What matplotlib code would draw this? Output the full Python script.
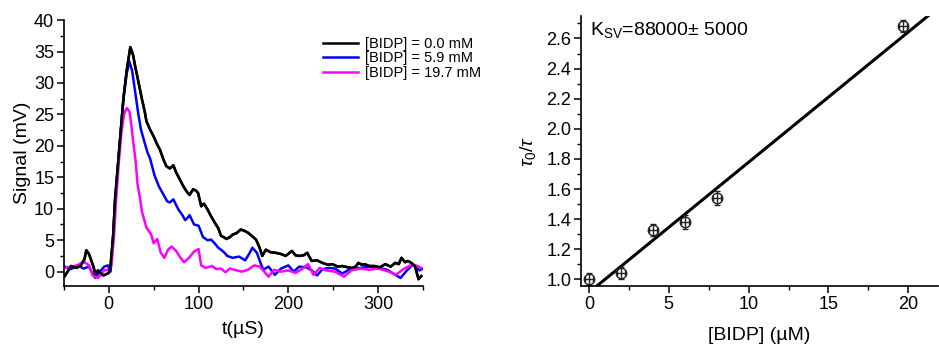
import numpy as np
import matplotlib.pyplot as plt
from matplotlib.ticker import MultipleLocator

plt.rcParams['font.family'] = ['Liberation Sans', 'DejaVu Sans']
plt.rcParams['mathtext.fontset'] = 'custom'
plt.rcParams['mathtext.rm'] = 'Liberation Sans'
plt.rcParams['mathtext.it'] = 'Liberation Sans:italic'

# transient traces (t in microseconds, signal in mV)
t_black = [-49, -45, -42, -36, -31, -27, -25, -22, -20, -17, -15, -12, -9, -6, -3, 0, 2, 5, 7, 12, 16.6, 20, 24, 27,
           29.5, 33, 37, 40, 42, 46, 50, 54, 57, 61, 64, 68, 72, 75, 79, 83, 86.5, 90, 94, 97, 99.5, 103, 106, 110,
           114, 118, 122, 125, 128, 131, 135, 138, 142, 147, 151, 155, 160, 164, 168, 171, 175, 180, 186, 192, 197,
           204, 208, 212, 217, 221, 226, 232, 238, 244, 249, 255, 260, 266, 271, 275, 278, 282, 285, 290, 296, 302,
           308, 314, 319, 323, 326, 330, 333, 337, 341, 345, 348]
s_black = [-0.7, 0.2, 0.9, 0.6, 1.0, 2.0, 3.4, 2.8, 2.0, 0.8, -0.4, 0.2, -0.2, -0.6, -0.4, -0.2, 0.9, 6.0, 11.5, 20.0, 27.9, 32.0, 35.7, 34.5,
           32.6, 30.2, 27.4, 25.5, 23.9, 22.6, 21.5, 20.2, 19.4, 17.8, 16.8, 16.4, 16.9, 15.8, 14.7, 13.6, 12.8, 12.2, 13.1, 12.9, 12.5, 10.4, 10.8, 9.9,
           8.8, 7.8, 6.9, 5.7, 5.5, 5.2, 5.5, 5.9, 6.1, 6.7, 6.5, 6.2, 5.6, 5.1, 3.8, 2.5, 3.5, 3.1, 3.0, 2.8, 2.5,
           3.3, 2.6, 2.5, 2.6, 3.0, 1.7, 1.8, 1.4, 1.1, 1.2, 0.8, 0.9, 0.7, 0.6, 0.8, 1.4, 1.1, 1.2, 0.9, 0.9, 0.7,
           1.2, 0.8, 1.4, 1.2, 2.2, 1.5, 1.7, 1.4, 0.9, -1.2, -0.7]

t_blue = [-49, -42, -35, -28, -22, -18, -15, -10, -5, -1, 2, 5, 7, 12, 16, 20, 23, 26, 28, 33, 36, 40, 43, 46, 51, 56,
          60, 65, 68, 72, 75, 78, 82, 85, 88, 90, 95, 100, 105, 110, 114, 118, 122, 125, 129, 132, 138, 145, 152,
          157, 160, 165, 168, 172, 178, 185, 192, 200, 206, 212, 220, 226, 232, 238, 245, 252, 260, 270, 280, 290,
          300, 310, 318, 325, 332, 338, 342, 346, 350]
s_blue = [0.8, 0.4, 1.0, 0.5, 0.8, -0.3, -1.0, 0.0, 0.8, 1.0, 0.0, 5.5, 11.0, 20.0, 27.0, 31.5, 33.4, 32.0, 30.0, 25.0, 22.5, 20.5, 19.0, 18.0, 15.3, 13.5,
          12.5, 11.2, 11.0, 11.5, 10.6, 9.8, 9.0, 8.2, 8.6, 9.0, 7.5, 7.3, 5.5, 5.0, 5.1, 4.5, 3.8, 3.5, 3.0, 2.5, 2.2, 2.4, 1.8,
          3.0, 3.8, 3.0, 1.8, 0.3, 0.8, -0.5, 0.5, 1.0, 0.0, 0.8, 0.7, 0.2, -0.6, 0.4, 0.6, 0.5, -0.3, 0.5, 0.6, 0.8,
          0.6, 0.3, -0.4, -1.0, 0.2, 1.0, 0.8, 0.2, 0.5]

t_mag = [-49, -42, -35, -28, -22, -18, -12, -5, 0, 3, 6, 8, 11, 14, 17, 20, 23, 25, 27, 30, 32, 35, 37, 42, 47, 50,
         54, 58, 62, 66, 70, 75, 80, 84, 90, 95, 100, 103, 108, 115, 120, 125, 130, 135, 140, 148, 155, 162, 168,
         172, 178, 184, 192, 200, 208, 216, 222, 228, 235, 242, 252, 262, 270, 280, 290, 300, 312, 320, 328, 336,
         342, 348]
s_mag = [0.6, 0.8, 1.0, 1.6, 1.0, -0.6, -1.0, 0.2, 0.3, 1.0, 6.0, 11.0, 17.0, 22.0, 25.0, 26.0, 25.5, 23.5, 21.0, 17.5, 14.0, 11.5, 9.5, 7.0, 6.0, 4.5,
         5.2, 3.0, 2.2, 3.5, 4.0, 3.3, 2.2, 1.5, 2.3, 3.2, 3.6, 1.0, 0.6, 0.9, 0.4, 0.5, -0.1, 0.5, 0.3, 0.0, 0.3, 1.0, 0.8,
         0.2, -0.8, 0.3, 0.0, 0.2, -0.2, 0.5, 1.2, -0.5, 0.6, 0.2, 0.0, -0.8, 0.2, 0.5, 0.3, 0.5, 0.0, -0.5, 0.4, 1.0,
         1.0, 0.6]

labels = ['[BIDP] = 0.0 mM', '[BIDP] = 5.9 mM', '[BIDP] = 19.7 mM']

# Stern-Volmer data
conc = [0, 2, 4, 6, 8, 19.7]
ratio = [1.00, 1.045, 1.33, 1.38, 1.54, 2.68]
ratio_err = [0.04, 0.04, 0.04, 0.045, 0.045, 0.04]
fit_slope = 0.0865
fit_icpt = 0.913

fig = plt.figure(figsize=(9.39, 3.46), dpi=100)
ax1 = fig.add_axes([0.068, 0.173, 0.3825, 0.769])
ax2 = fig.add_axes([0.6187, 0.173, 0.38, 0.781])

for t, s, c, lab in [(t_black, s_black, 'black', labels[0]),
                     (t_blue, s_blue, '#0000ff', labels[1]),
                     (t_mag, s_mag, '#ff00ff', labels[2])]:
    ax1.plot(t, s, color=c, lw=1.8, label=lab)
# redraw black on top as in the reference
ax1.plot(t_black, s_black, color='black', lw=1.8)

ax1.set_xlim(-50, 350)
ax1.set_ylim(-2.3, 40)
ax1.xaxis.set_major_locator(MultipleLocator(100))
ax1.xaxis.set_minor_locator(MultipleLocator(50))
ax1.yaxis.set_major_locator(MultipleLocator(5))
ax1.yaxis.set_minor_locator(MultipleLocator(2.5))
ax1.set_xlabel('t(\u00b5S)', fontsize=14, labelpad=6)
ax1.set_ylabel('Signal (mV)', fontsize=14, labelpad=2)
ax1.legend(loc='upper left', bbox_to_anchor=(0.336, 0.915), bbox_transform=fig.transFigure,
           frameon=False, fontsize=10.5, handlelength=2.4, handletextpad=0.5,
           labelspacing=0.05, borderpad=0)

xx = np.array([0.0, 23.0])
ax2.plot(xx, fit_icpt + fit_slope * xx, color='black', lw=2.2)
ax2.errorbar(conc, ratio, yerr=ratio_err, xerr=0.25, fmt='o', mfc='none', mec='#222222',
             ecolor='#222222', ms=7.5, mew=1.0, elinewidth=1.0, capsize=2.5)
ax2.set_xlim(-0.5, 21.85)
ax2.set_ylim(0.955, 2.75)
ax2.xaxis.set_major_locator(MultipleLocator(5))
ax2.xaxis.set_minor_locator(MultipleLocator(2.5))
ax2.yaxis.set_major_locator(MultipleLocator(0.2))
ax2.yaxis.set_minor_locator(MultipleLocator(0.1))
ax2.yaxis.set_major_formatter(plt.FormatStrFormatter('%.1f'))
ax2.set_xlabel('[BIDP] (\u00b5M)', fontsize=14, labelpad=10)
ax2.set_ylabel(r'$\tau_0/\tau$', fontsize=14, labelpad=6)
ax2.text(0.025, 0.985, 'K$_{\\rm SV}$=88000\u00b1 5000',
         transform=ax2.transAxes, fontsize=14, va='top', ha='left')

for ax in (ax1, ax2):
    ax.spines['top'].set_visible(False)
    ax.spines['right'].set_visible(False)
    ax.spines['left'].set_linewidth(1.2)
    ax.spines['bottom'].set_linewidth(1.2)
    ax.tick_params(which='major', direction='out', length=5, width=1.1, labelsize=13, pad=2)
    ax.tick_params(which='minor', direction='out', length=3, width=1.0)

fig.savefig('out.png', dpi=100)
